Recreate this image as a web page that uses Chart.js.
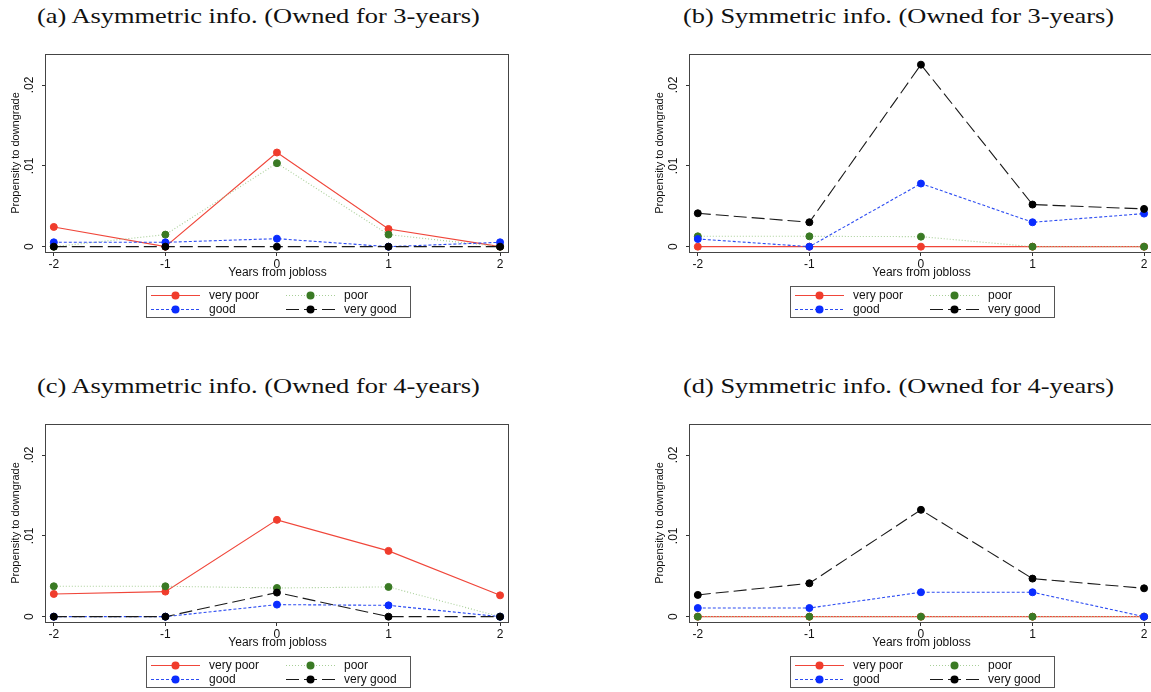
<!DOCTYPE html>
<html>
<head>
<meta charset="utf-8">
<script src="https://cdn.jsdelivr.net/npm/chart.js@4.4.0/dist/chart.umd.min.js"></script>
<style>
  html, body { margin: 0; padding: 0; background: #fff; overflow: hidden; width: 1151px; height: 692px; }
  .panel { position: absolute; }
  .ttl { position: absolute; font-family: "Liberation Serif", serif; font-size: 22px; color: #111;
         white-space: nowrap; transform: scaleX(1.2); transform-origin: left center; }
</style>
</head>
<body>
<div class="ttl" style="left:37px;top:3px">(a) Asymmetric info. (Owned for 3-years)</div>
<div class="ttl" style="left:683px;top:3px">(b) Symmetric info. (Owned for 3-years)</div>
<div class="ttl" style="left:37px;top:373px">(c) Asymmetric info. (Owned for 4-years)</div>
<div class="ttl" style="left:683px;top:373px">(d) Symmetric info. (Owned for 4-years)</div>

<canvas id="chartA" class="panel" style="left:0;top:45px" width="575" height="285"></canvas>
<canvas id="chartB" class="panel" style="left:644px;top:45px" width="575" height="285"></canvas>
<canvas id="chartC" class="panel" style="left:0;top:415px" width="575" height="285"></canvas>
<canvas id="chartD" class="panel" style="left:644px;top:415px" width="575" height="285"></canvas>

<script>
// years around the job loss and the four condition groups
const years = [-2, -1, 0, 1, 2];
const seriesNames = ["very poor", "poor", "good", "very good"];
const yTickValues = [0, 0.01, 0.02];
const yTickLabels = ["0", ".01", ".02"];

// (a) asymmetric, owned 3 years
const aVeryPoor = [0.00244, 0, 0.01165, 0.00219, 0];
const aPoor = [0, 0.00149, 0.01033, 0.00149, 0];
const aGood = [0.00054, 0.00054, 0.00099, 0, 0.00054];
const aVeryGood = [0, 0, 0, 0, 0];

// (b) symmetric, owned 3 years
const bVeryPoor = [0, 0, 0, 0, 0];
const bPoor = [0.00128, 0.00128, 0.00124, 0, 0];
const bGood = [0.00095, 0, 0.00781, 0.00302, 0.00409];
const bVeryGood = [0.00413, 0.00302, 0.02252, 0.00521, 0.00467];

// (c) asymmetric, owned 4 years
const cVeryPoor = [0.00281, 0.0031, 0.01198, 0.00814, 0.00264];
const cPoor = [0.00376, 0.00376, 0.00355, 0.00368, 0];
const cGood = [0, 0, 0.00149, 0.0014, 0];
const cVeryGood = [0, 0, 0.00298, 0, 0];

// (d) symmetric, owned 4 years
const dVeryPoor = [0, 0, 0, 0, 0];
const dPoor = [0, 0, 0, 0, 0];
const dGood = [0.00107, 0.00107, 0.00302, 0.00302, 0];
const dVeryGood = [0.00269, 0.00413, 0.01322, 0.00471, 0.00351];

// styles
const markerColors = ["#f03c2c", "#3a7a24", "#0a2cff", "#000000"];
const lineColors = ["#f0463a", "#a8cf98", "#2c4cf2", "#1a1a1a"];
const lineDashes = [[], [1, 2], [3, 2], [13, 5]];
const sansFont = '"Liberation Sans", Arial, sans-serif';

// box around the plot, rotated y labels and the boxed legend under the plot
const stataPlugin = {
  id: "stataFrame",
  afterDraw(chart) {
    const ctx = chart.ctx;
    const a = chart.chartArea;
    ctx.save();
    ctx.strokeStyle = "#444";
    ctx.lineWidth = 1;
    ctx.strokeRect(Math.round(a.left) - 0.5, Math.round(a.top) + 0.5,
      Math.round(a.right - a.left), Math.round(a.bottom - a.top));

    // y tick labels, reading upward
    const ys = chart.scales.y;
    ctx.fillStyle = "#111";
    ctx.font = "12px " + sansFont;
    yTickValues.forEach(function (v, i) {
      ctx.save();
      ctx.translate(a.left - 16, ys.getPixelForValue(v));
      ctx.rotate(-Math.PI / 2);
      ctx.textAlign = "center";
      ctx.textBaseline = "middle";
      ctx.fillText(yTickLabels[i], 0, 0);
      ctx.restore();
    });

    // legend
    const cx = Math.round((a.left + a.right) / 2);
    ctx.strokeStyle = "#555";
    ctx.strokeRect(cx - 132 + 0.5, Math.round(a.bottom) + 34.5, 264, 31);
    seriesNames.forEach(function (name, i) {
      const col = i % 2;
      const row = Math.floor(i / 2);
      const x0 = cx + (col ? 8 : -127);
      const y = Math.round(a.bottom) + (row ? 57.5 : 43.5);
      ctx.setLineDash(lineDashes[i]);
      ctx.strokeStyle = lineColors[i];
      ctx.lineWidth = 1.1;
      ctx.beginPath();
      ctx.moveTo(x0, y);
      ctx.lineTo(x0 + 49, y);
      ctx.stroke();
      ctx.setLineDash([]);
      ctx.fillStyle = markerColors[i];
      ctx.beginPath();
      ctx.arc(x0 + 24.5, y, 4, 0, Math.PI * 2);
      ctx.fill();
      ctx.fillStyle = "#111";
      ctx.font = "12px " + sansFont;
      ctx.textAlign = "left";
      ctx.textBaseline = "middle";
      ctx.fillText(name, x0 + 58, y);
    });
    ctx.restore();
  }
};

function makeChart(id, seriesValues) {
  const datasets = seriesNames.map(function (name, i) {
    return {
      label: name,
      data: years.map(function (x, j) { return { x: x, y: seriesValues[i][j] }; }),
      borderColor: lineColors[i],
      backgroundColor: markerColors[i],
      pointBackgroundColor: markerColors[i],
      pointBorderColor: markerColors[i],
      pointRadius: 3.5,
      pointBorderWidth: 1,
      borderWidth: 1.1,
      borderDash: lineDashes[i],
      tension: 0,
      order: 3 - i
    };
  });

  return new Chart(document.getElementById(id), {
    type: "line",
    data: { datasets: datasets },
    options: {
      responsive: false,
      animation: false,
      events: [],
      layout: { padding: { left: 0, top: 9, right: 66, bottom: 50 } },
      plugins: { legend: { display: false }, tooltip: { enabled: false } },
      scales: {
        x: {
          type: "linear",
          min: -2.07,
          max: 2.08,
          afterBuildTicks: function (s) { s.ticks = years.map(function (v) { return { value: v }; }); },
          afterFit: function (s) { s.height = 28; },
          border: { display: false },
          grid: { drawOnChartArea: false, tickLength: 4, color: "#333" },
          ticks: {
            padding: 1, color: "#111", maxRotation: 0,
            font: { family: sansFont, size: 12 },
            callback: function (v) { return String(v); }
          },
          title: {
            display: true, text: "Years from jobloss", padding: 0, color: "#111",
            font: { family: sansFont, size: 12 }
          }
        },
        y: {
          min: -0.00066,
          max: 0.02384,
          afterBuildTicks: function (s) { s.ticks = yTickValues.map(function (v) { return { value: v }; }); },
          afterFit: function (s) { s.width = 46; },
          border: { display: false },
          grid: { drawOnChartArea: false, tickLength: 4, color: "#333" },
          ticks: { display: false },
          title: {
            display: true, text: "Propensity to downgrade", padding: { top: 9.5, bottom: 0 }, color: "#111",
            font: { family: sansFont, size: 11 }
          }
        }
      }
    },
    plugins: [stataPlugin]
  });
}

makeChart("chartA", [aVeryPoor, aPoor, aGood, aVeryGood]);
makeChart("chartB", [bVeryPoor, bPoor, bGood, bVeryGood]);
makeChart("chartC", [cVeryPoor, cPoor, cGood, cVeryGood]);
makeChart("chartD", [dVeryPoor, dPoor, dGood, dVeryGood]);
</script>
</body>
</html>
